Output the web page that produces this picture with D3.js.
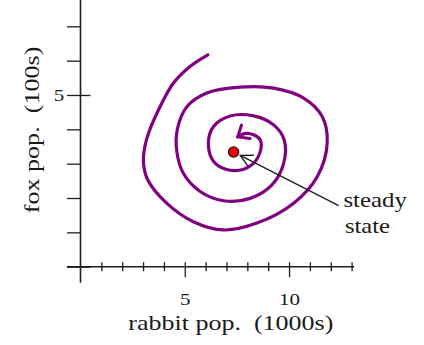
<!DOCTYPE html>
<html>
<head>
<meta charset="utf-8">
<script src="https://cdn.jsdelivr.net/npm/d3@7"></script>
<style>
  html, body { margin: 0; padding: 0; background: #fff; }
  svg { display: block; }
  text { font-family: "Liberation Serif", "Times New Roman", Times, serif; fill: #1a1a1a; white-space: pre; }
</style>
</head>
<body>
<svg id="chart" width="424" height="345"></svg>
<script>
// Rabbit / fox trajectory (rabbits in 1000s, foxes in 100s), spiralling in
const rabbit = [6.11, 5.25, 4.45, 3.58, 3.27, 3.07, 3.02, 3.22, 4.13, 5.41, 6.86,
                8.46, 10.22, 11.35, 11.83, 11.59, 10.70, 9.26, 7.66, 6.06, 5.10,
                4.64, 4.62, 4.93, 5.74, 6.86, 8.14, 9.18, 9.74, 9.77, 9.26,
                8.30, 7.18, 6.38, 6.13, 6.46, 7.34, 8.22, 8.62, 8.62, 8.30,
                7.90, 7.54];
const fox    = [6.17, 5.83, 5.34, 4.36, 3.90, 3.45, 3.02, 2.53, 1.85, 1.31, 1.07,
                1.27, 1.85, 2.62, 3.60, 4.37, 4.91, 5.20, 5.23, 5.06, 4.66,
                3.99, 3.35, 2.72, 2.19, 1.92, 1.99, 2.38, 3.01, 3.69, 4.13,
                4.39, 4.39, 4.08, 3.55, 3.01, 2.80, 2.97, 3.35, 3.69, 3.84,
                3.88, 3.78];

// Equilibrium point
const steadyRabbit = 7.34;
const steadyFox = 3.34;

// Axis ticks and labels
const xTickValues = d3.range(1, 14);
const xTickLabels = [5, 10];
const yTickValues = d3.range(0, 8);
const yTickLabels = [5];

const xTitle = "rabbit pop.  (1000s)";
const yTitle = "fox pop.  (100s)";
const noteLines = ["steady", "state"];

const svg = d3.select("#chart");
svg.append("rect").attr("width", 424).attr("height", 345).attr("fill", "#fff");

const x = d3.scaleLinear().domain([0, 13]).range([80.5, 351.6]);
const y = d3.scaleLinear().domain([0, 7]).range([266.7, 26.3]);

const ink = "#1f1f1f";
const serif = "'Liberation Serif', 'Times New Roman', Times, serif";
const stretch = 1.2;

// axis lines (extend a little past the origin)
svg.append("line")
  .attr("x1", x(-0.65)).attr("x2", x(13.12))
  .attr("y1", y(0)).attr("y2", y(0))
  .attr("stroke", ink).attr("stroke-width", 1.6);
svg.append("line")
  .attr("x1", x(0)).attr("x2", x(0))
  .attr("y1", y(7.77)).attr("y2", y(-0.47))
  .attr("stroke", ink).attr("stroke-width", 1.6);

// x axis ticks
const gx = svg.append("g")
  .attr("transform", `translate(0,${y(0)})`)
  .call(d3.axisBottom(x).tickValues(xTickValues).tickSizeOuter(0)
        .tickFormat(d => xTickLabels.includes(d) ? String(d) : ""));
gx.select(".domain").remove();
gx.attr("font-family", serif).attr("font-size", 17.5);
gx.selectAll(".tick line")
  .attr("y1", -4.5)
  .attr("y2", d => xTickLabels.includes(d) ? 10.5 : 4.5)
  .attr("stroke", ink).attr("stroke-width", 1.3);
gx.selectAll(".tick text")
  .attr("y", 38.3).attr("dy", 0)
  .attr("transform", `scale(${stretch},1)`)
  .attr("fill", ink);

// y axis ticks
const gy = svg.append("g")
  .attr("transform", `translate(${x(0)},0)`)
  .call(d3.axisLeft(y).tickValues(yTickValues).tickSizeOuter(0)
        .tickFormat(d => yTickLabels.includes(d) ? String(d) : ""));
gy.select(".domain").remove();
gy.attr("font-family", serif).attr("font-size", 17.5);
gy.selectAll(".tick line")
  .attr("x1", d => (d === 0 || yTickLabels.includes(d)) ? 10 : 0)
  .attr("x2", -13.5)
  .attr("stroke", ink).attr("stroke-width", 1.3);
gy.selectAll(".tick text")
  .attr("x", 0).attr("dy", 0).attr("y", 6)
  .attr("text-anchor", "middle")
  .attr("transform", `translate(-21.5,0) scale(${stretch},1)`)
  .attr("fill", ink);

// axis titles
svg.append("text")
  .attr("x", 128.3).attr("y", 330)
  .attr("font-family", serif)
  .attr("font-size", 21.5)
  .attr("textLength", 205).attr("lengthAdjust", "spacingAndGlyphs")
  .text(xTitle);
svg.append("text")
  .attr("transform", "translate(38.5,213.3) rotate(-90)")
  .attr("font-family", serif)
  .attr("font-size", 21.5)
  .attr("textLength", 166.7).attr("lengthAdjust", "spacingAndGlyphs")
  .text(yTitle);

// arrowhead markers
const defs = svg.append("defs");
defs.append("marker")
  .attr("id", "chev")
  .attr("markerUnits", "userSpaceOnUse")
  .attr("viewBox", "-14 -10 16 20")
  .attr("markerWidth", 16).attr("markerHeight", 20)
  .attr("refX", 0).attr("refY", 0)
  .attr("orient", "auto")
  .append("path")
  .attr("d", "M-9.5,-8 L0,0 L-9.5,8")
  .attr("fill", "none")
  .attr("stroke", "#800080").attr("stroke-width", 3)
  .attr("stroke-linecap", "round").attr("stroke-linejoin", "round");

defs.append("marker")
  .attr("id", "openArrow")
  .attr("markerUnits", "userSpaceOnUse")
  .attr("viewBox", "-16 -8 18 16")
  .attr("markerWidth", 18).attr("markerHeight", 16)
  .attr("refX", 0).attr("refY", 0)
  .attr("orient", "auto")
  .append("path")
  .attr("d", "M-12,-6.3 L0,0 L-12,6.3")
  .attr("fill", "none")
  .attr("stroke", ink).attr("stroke-width", 1.4)
  .attr("stroke-linejoin", "miter");

// trajectory
const pts = rabbit.map((r, i) => [r, fox[i]]);
const line = d3.line()
  .x(d => x(d[0])).y(d => y(d[1]))
  .curve(d3.curveCatmullRom.alpha(0.5));
svg.append("path")
  .attr("d", line(pts))
  .attr("fill", "none")
  .attr("stroke", "#800080")
  .attr("stroke-width", 3.2)
  .attr("stroke-linecap", "round")
  .attr("stroke-linejoin", "round")
  .attr("marker-end", "url(#chev)");

// annotation arrow pointing at the equilibrium
const sx = x(steadyRabbit), sy = y(steadyFox);
const tailX = x(12.38), tailY = y(1.78);
const dx = tailX - sx, dy = tailY - sy, len = Math.hypot(dx, dy);
const gap = 7.5;
svg.append("line")
  .attr("x1", tailX).attr("y1", tailY)
  .attr("x2", sx + dx / len * gap).attr("y2", sy + dy / len * gap)
  .attr("stroke", ink).attr("stroke-width", 1.4)
  .attr("marker-end", "url(#openArrow)");

// equilibrium point
svg.append("circle")
  .attr("cx", sx).attr("cy", sy).attr("r", 5.2)
  .attr("fill", "#ee0000")
  .attr("stroke", "#111").attr("stroke-width", 1.1);

// annotation text
const noteX = x(12.61);
const noteLengths = [63.4, 45];
noteLines.forEach((t, i) => {
  svg.append("text")
    .attr("x", noteX + (i === 1 ? 1.5 : 0))
    .attr("y", y(1.75) + i * 26.6)
    .attr("font-family", serif)
    .attr("font-size", 21)
    .attr("textLength", noteLengths[i]).attr("lengthAdjust", "spacingAndGlyphs")
    .text(t);
});
</script>
</body>
</html>
